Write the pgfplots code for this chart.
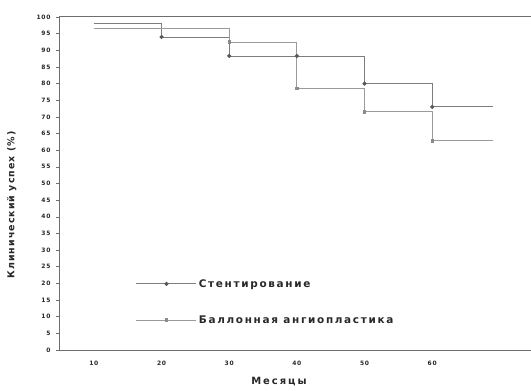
\documentclass[border=0pt]{standalone}
\usepackage{fontspec}
\setmainfont{DejaVu Sans}
\usepackage{pgfplots}
\pgfplotsset{compat=1.18}
\definecolor{stentc}{RGB}{125,125,125}
\definecolor{ballc}{RGB}{155,155,155}
\definecolor{axc}{RGB}{110,110,110}
\definecolor{txt}{RGB}{40,40,40}
\begin{document}
\begin{tikzpicture}[x=1bp,y=1bp]
\begin{axis}[
  at={(59bp,40bp)}, anchor=south west,
  scale only axis, width=472bp, height=333bp,
  xmin=4.85, xmax=74.6, ymin=0, ymax=100,
  axis x line*=bottom, axis y line*=left,
  axis line style={axc, line width=1pt},
  every axis plot/.append style={line width=0.9pt},
  /pgf/number format/assume math mode=true,
  ytick={0,5,...,95},
  extra y ticks={100},
  extra y tick style={grid=major, major grid style={axc, line width=1pt}},
  xtick={10,20,...,60},
  major x tick style={draw=none},
  extra x ticks={4.85,14.85,24.85,34.85,44.85,54.85,64.85},
  extra x tick labels={},
  extra x tick style={tick style={axc, line width=0.6pt}, major tick length=3bp, tick align=outside},
  ytick style={axc, line width=0.6pt}, major tick length=3bp, tick align=outside,
  tick label style={font=\fontsize{6}{7}\selectfont\bfseries\addfontfeatures{LetterSpace=12}, text=txt},
  xticklabel style={yshift=-5bp},
  yticklabel style={xshift=-2bp},
  xlabel={\fontsize{10}{12}\selectfont\bfseries\addfontfeatures{LetterSpace=20}Месяцы},
  ylabel={\fontsize{9.5}{11}\selectfont\bfseries\addfontfeatures{LetterSpace=11}Клинический успех (\%)},
  xlabel style={at={(axis description cs:0.466,-0.096)}, anchor=center, text=txt},
  ylabel style={at={(axis description cs:-0.1,0.435)}, anchor=center, text=txt},
  clip=false,
  legend image code/.code={\draw[#1] (0bp,0bp) -- (60bp,0bp); \path[#1] plot[only marks] coordinates {(30bp,0bp)};},
  legend style={draw=none, fill=none, at={(axis cs:16.2,21.9)}, anchor=north west, inner sep=0pt,
     row sep=23bp, font=\fontsize{10.5}{11.5}\selectfont\bfseries\addfontfeatures{LetterSpace=16}, text=txt,
     /tikz/every even column/.append style={column sep=9bp}},
  legend cell align=left,
]
\addlegendimage{stentc, line width=0.9pt, mark=*, mark size=1.6pt, mark options={fill=stentc!70!black, draw=stentc!70!black}}
\addlegendentry{Стентирование}
\addlegendimage{ballc, line width=0.9pt, mark=square*, mark size=1.2pt, mark options={fill=ballc!90!black, draw=ballc!90!black}}
\addlegendentry{Баллонная ангиопластика}
\addplot[const plot, stentc, forget plot]
  coordinates {(10,98) (20,94) (30,88.3) (40,88.3) (50,80) (60,73) (69,73)};
\addplot[ballc, const plot, forget plot]
  coordinates {(10,96.7) (30,92.5) (40,78.5) (50,71.5) (60,62.8) (69,62.8)};
\addplot[only marks, mark=*, mark size=1.6pt, fill=stentc!70!black, draw=stentc!70!black, forget plot]
  coordinates {(20,94) (30,88.3) (40,88.3) (50,80) (60,73)};
\addplot[only marks, mark=square*, mark size=1.2pt, fill=ballc!90!black, draw=ballc!90!black, forget plot]
  coordinates {(30,92.5) (40,78.5) (50,71.5) (60,62.8)};
\end{axis}
\pgfresetboundingbox
\path (0,0) rectangle (531,390);
\end{tikzpicture}
\end{document}
